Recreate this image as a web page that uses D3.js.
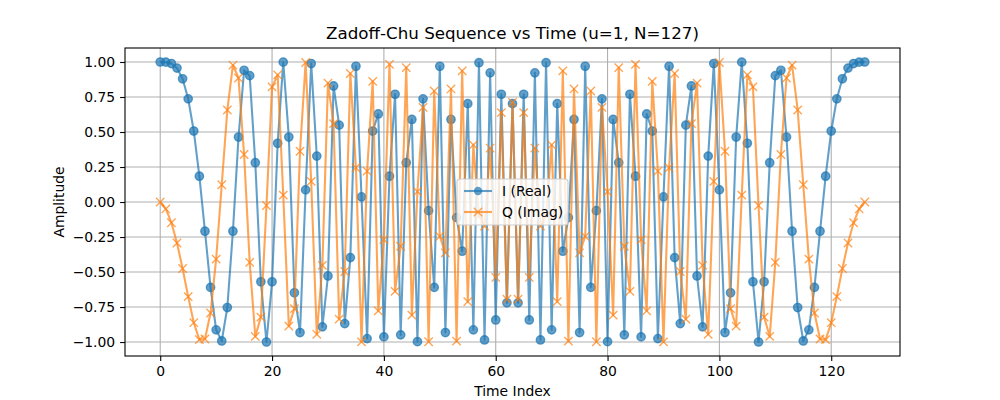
<!DOCTYPE html>
<html>
<head>
<meta charset="utf-8">
<script src="https://cdn.jsdelivr.net/npm/d3@7"></script>
<style>
  body { margin: 0; background: #fff; }
  svg { font-family: "DejaVu Sans", sans-serif; }
</style>
</head>
<body>
<div id="chart"></div>
<script>
// samples, n = 0..126
var iReal = [1, 0.9988, 0.9890, 0.9563, 0.8801, 0.7370, 0.5071, 0.1844, -0.2087, -0.6096,
  -0.9128, -0.9924, -0.7535, -0.2087, 0.4639, 0.9406, 0.9025, 0.2806, -0.5696, -0.9997,
  -0.5696, 0.4195, 0.9988, 0.4639, -0.6481, -0.9320, 0.0865, 0.9890, 0.3278, -0.8916,
  -0.5283, 0.8288, 0.5491, -0.8681, -0.3969, 0.9696, 0.0371, -0.9753, 0.5071, 0.6290,
  -0.9632, 0.1844, 0.7695, -0.9487, 0.2806, 0.5898, -0.9972, 0.7370, -0.0618, -0.6096,
  0.9696, -0.9320, 0.5898, -0.1111, -0.3511, 0.7027, -0.9128, 0.9951, -0.9850, 0.9227,
  -0.8425, 0.7695, -0.7201, 0.7027, -0.7201, 0.7695, -0.8425, 0.9227, -0.9850, 0.9951,
  -0.9128, 0.7027, -0.3511, -0.1111, 0.5898, -0.9320, 0.9696, -0.6096, -0.0618, 0.7370,
  -0.9972, 0.5898, 0.2806, -0.9487, 0.7695, 0.1844, -0.9632, 0.6290, 0.5071, -0.9753,
  0.0371, 0.9696, -0.3969, -0.8681, 0.5491, 0.8288, -0.5283, -0.8916, 0.3278, 0.9890,
  0.0865, -0.9320, -0.6481, 0.4639, 0.9988, 0.4195, -0.5696, -0.9997, -0.5696, 0.2806,
  0.9025, 0.9406, 0.4639, -0.2087, -0.7535, -0.9924, -0.9128, -0.6096, -0.2087, 0.1844,
  0.5071, 0.7370, 0.8801, 0.9563, 0.9890, 0.9988, 1];

var qImag = [0, -0.0495, -0.1479, -0.2925, -0.4748, -0.6758, -0.8619, -0.9829, -0.9780, -0.7927,
  -0.4082, 0.1234, 0.6574, 0.9780, 0.8859, 0.3395, -0.4307, -0.9599, -0.8220, -0.0247,
  0.8220, 0.9078, 0.0495, -0.8859, -0.7616, 0.3626, 0.9963, 0.1479, -0.9447, -0.4529,
  0.8490, 0.5594, -0.8358, -0.4964, 0.9179, 0.2449, -0.9993, 0.2208, 0.8619, -0.7774,
  -0.2688, 0.9829, -0.6386, -0.3161, 0.9599, -0.8075, 0.0741, 0.6758, -0.9981, 0.7927,
  -0.2449, -0.3626, 0.8075, -0.9938, 0.9364, -0.7115, 0.4082, -0.0988, -0.1723, 0.3855,
  -0.5387, 0.6386, -0.6939, 0.7115, -0.6939, 0.6386, -0.5387, 0.3855, -0.1723, -0.0988,
  0.4082, -0.7115, 0.9364, -0.9938, 0.8075, -0.3626, -0.2449, 0.7927, -0.9981, 0.6758,
  0.0741, -0.8075, 0.9599, -0.3161, -0.6386, 0.9829, -0.2688, -0.7774, 0.8619, 0.2208,
  -0.9993, 0.2449, 0.9179, -0.4964, -0.8358, 0.5594, 0.8490, -0.4529, -0.9447, 0.1479,
  0.9963, 0.3626, -0.7616, -0.8859, 0.0495, 0.9078, 0.8220, -0.0247, -0.8220, -0.9599,
  -0.4307, 0.3395, 0.8859, 0.9780, 0.6574, 0.1234, -0.4082, -0.7927, -0.9780, -0.9829,
  -0.8619, -0.6758, -0.4748, -0.2925, -0.1479, -0.0495, 0];

var xTicks = [0, 20, 40, 60, 80, 100, 120];
var yTicks = [-1, -0.75, -0.5, -0.25, 0, 0.25, 0.5, 0.75, 1];
var seriesNames = ["I (Real)", "Q (Imag)"];

var width = 1000, height = 400;
var margin = { left: 125, right: 100, top: 48, bottom: 44 };
var innerW = width - margin.left - margin.right;
var innerH = height - margin.top - margin.bottom;

var blue = "#1f77b4", orange = "#ff7f0e";

var svg = d3.select("#chart").append("svg")
    .attr("width", width)
    .attr("height", height);

var n = d3.range(iReal.length);
var xPad = (n.length - 1) * 0.05;
var x = d3.scaleLinear()
    .domain([0 - xPad, n.length - 1 + xPad])
    .range([0, innerW]);

var allVals = iReal.concat(qImag);
var yMin = d3.min(allVals), yMax = d3.max(allVals);
var yPad = (yMax - yMin) * 0.05;
var y = d3.scaleLinear()
    .domain([yMin - yPad, yMax + yPad])
    .range([innerH, 0]);

var g = svg.append("g")
    .attr("transform", "translate(" + margin.left + "," + margin.top + ")");

// grid
g.append("g").selectAll("line").data(xTicks).enter().append("line")
    .attr("x1", d => x(d)).attr("x2", d => x(d))
    .attr("y1", 0).attr("y2", innerH)
    .attr("stroke", "#b0b0b0").attr("stroke-width", 1.1);
g.append("g").selectAll("line").data(yTicks).enter().append("line")
    .attr("y1", d => y(d)).attr("y2", d => y(d))
    .attr("x1", 0).attr("x2", innerW)
    .attr("stroke", "#b0b0b0").attr("stroke-width", 1.1);

// axes
var xAxis = g.append("g")
    .attr("transform", "translate(0," + innerH + ")")
    .call(d3.axisBottom(x).tickValues(xTicks).tickSize(4.9).tickPadding(4.9).tickFormat(d3.format("d")));
var yAxis = g.append("g")
    .call(d3.axisLeft(y).tickValues(yTicks).tickSize(4.9).tickPadding(4.9).tickFormat(d3.format(".2f")));
[xAxis, yAxis].forEach(function(a) {
  a.select(".domain").remove();
  a.selectAll("line").attr("stroke", "#000").attr("stroke-width", 1.1);
  a.selectAll("text").attr("font-size", "13.9px").attr("fill", "#000")
    .attr("font-family", "DejaVu Sans, sans-serif");
});

var clip = g.append("clipPath").attr("id", "clip")
  .append("rect").attr("width", innerW).attr("height", innerH);

var plot = g.append("g").attr("clip-path", "url(#clip)");

var line = d3.line().x(d => x(d[0])).y(d => y(d[1]));

// I series
var iPts = n.map(i => [i, iReal[i]]);
var gi = plot.append("g").attr("opacity", 0.7);
gi.append("path").datum(iPts)
    .attr("d", line).attr("fill", "none")
    .attr("stroke", blue).attr("stroke-width", 2.08)
    .attr("stroke-linejoin", "round");
plot.selectAll(".dotI").data(iPts).enter().append("circle")
    .attr("class", "dotI")
    .attr("cx", d => x(d[0])).attr("cy", d => y(d[1]))
    .attr("r", 4.17).attr("fill", blue).attr("fill-opacity", 0.7)
    .attr("stroke", blue).attr("stroke-opacity", 0.7).attr("stroke-width", 1.4);

// Q series
var qPts = n.map(i => [i, qImag[i]]);
plot.append("path").datum(qPts)
    .attr("d", line).attr("fill", "none")
    .attr("stroke", orange).attr("stroke-width", 2.08).attr("stroke-opacity", 0.7)
    .attr("stroke-linejoin", "round");
var s = 4.17;
plot.selectAll(".dotQ").data(qPts).enter().append("path")
    .attr("class", "dotQ")
    .attr("d", d => {
      var cx = x(d[0]), cy = y(d[1]);
      return "M" + (cx - s) + "," + (cy - s) + "L" + (cx + s) + "," + (cy + s) +
             "M" + (cx - s) + "," + (cy + s) + "L" + (cx + s) + "," + (cy - s);
    })
    .attr("stroke", orange).attr("stroke-opacity", 0.7).attr("stroke-width", 1.4);

// frame
g.append("rect").attr("width", innerW).attr("height", innerH)
    .attr("fill", "none").attr("stroke", "#000").attr("stroke-width", 1.1);

// title and labels
svg.append("text")
    .attr("x", margin.left + innerW / 2).attr("y", margin.top - 9)
    .attr("text-anchor", "middle").attr("font-size", "16.7px")
    .text("Zadoff-Chu Sequence vs Time (u=1, N=127)");
svg.append("text")
    .attr("x", margin.left + innerW / 2).attr("y", 396)
    .attr("text-anchor", "middle").attr("font-size", "13.9px")
    .text("Time Index");
svg.append("text")
    .attr("transform", "translate(64," + (margin.top + innerH / 2) + ") rotate(-90)")
    .attr("text-anchor", "middle").attr("font-size", "13.9px")
    .text("Amplitude");

// legend
var legend = svg.append("g").attr("transform", "translate(457,179)");
legend.append("rect").attr("width", 111).attr("height", 46)
    .attr("rx", 3).attr("fill", "#fff").attr("fill-opacity", 0.8)
    .attr("stroke", "#cccccc").attr("stroke-width", 1.1);
seriesNames.forEach(function(name, i) {
  var row = legend.append("g").attr("transform", "translate(7," + (12 + i * 21) + ")");
  var c = i === 0 ? blue : orange;
  row.append("line").attr("x1", 0).attr("x2", 28).attr("y1", 0).attr("y2", 0)
      .attr("stroke", c).attr("stroke-width", 2.08).attr("stroke-opacity", 0.7);
  if (i === 0) {
    row.append("circle").attr("cx", 14).attr("cy", 0).attr("r", 4.17)
        .attr("fill", c).attr("fill-opacity", 0.7);
  } else {
    row.append("path").attr("d", "M9.8,-4.2L18.2,4.2M9.8,4.2L18.2,-4.2")
        .attr("stroke", c).attr("stroke-opacity", 0.7).attr("stroke-width", 1.4);
  }
  row.append("text").attr("x", 38).attr("y", 5).attr("font-size", "13.9px")
      .text(name);
});
</script>
</body>
</html>
